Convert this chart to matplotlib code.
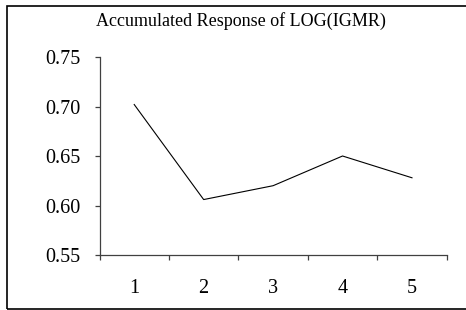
import matplotlib
matplotlib.use("Agg")
import matplotlib.pyplot as plt
from matplotlib.patches import Rectangle
from matplotlib.ticker import FixedLocator

periods = [1, 2, 3, 4, 5]
response = [0.702, 0.606, 0.620, 0.650, 0.628]
yticks = [0.55, 0.60, 0.65, 0.70, 0.75]
title = "Accumulated Response of LOG(IGMR)"

plt.rcParams['font.family'] = ['Liberation Serif', 'DejaVu Serif']

fig = plt.figure(figsize=(4.66, 3.10), dpi=100)
ax = fig.add_axes([99.5/466, 1-255/310, (446.7-99.5)/466, (255-57)/310])

ax.plot(periods, response, color='black', lw=0.8)

ax.set_xlim(0.5, 5.5)
ax.set_ylim(0.55, 0.75)
ax.set_yticks(yticks)
ax.set_yticklabels([f"{v:.2f}" for v in yticks], fontsize=14.5)

ax.xaxis.set_major_locator(FixedLocator([p - 0.5 for p in periods] + [periods[-1] + 0.5]))
ax.set_xticklabels([])
ax.xaxis.set_minor_locator(FixedLocator(periods))
ax.set_xticklabels([str(p) for p in periods], minor=True, fontsize=14.5)

for s in ['top', 'right']:
    ax.spines[s].set_visible(False)
for s in ['left', 'bottom']:
    ax.spines[s].set_color('#404040')
    ax.spines[s].set_linewidth(0.9)

ax.tick_params(axis='y', which='major', direction='out', length=3.5, width=0.9, color='#404040', pad=10)
ax.tick_params(axis='x', which='major', direction='out', length=3.5, width=0.9, color='#404040')
ax.tick_params(axis='x', which='minor', length=0, pad=17.5)

fig.text(241/466, 1-26/310, title, ha='center', va='baseline', fontsize=13)

fig.patches.append(Rectangle((7/466, 1-309/310), 1.0, 303/310, transform=fig.transFigure,
                             fill=False, edgecolor='black', lw=1.2, figure=fig))

fig.savefig('out.png', dpi=100)
